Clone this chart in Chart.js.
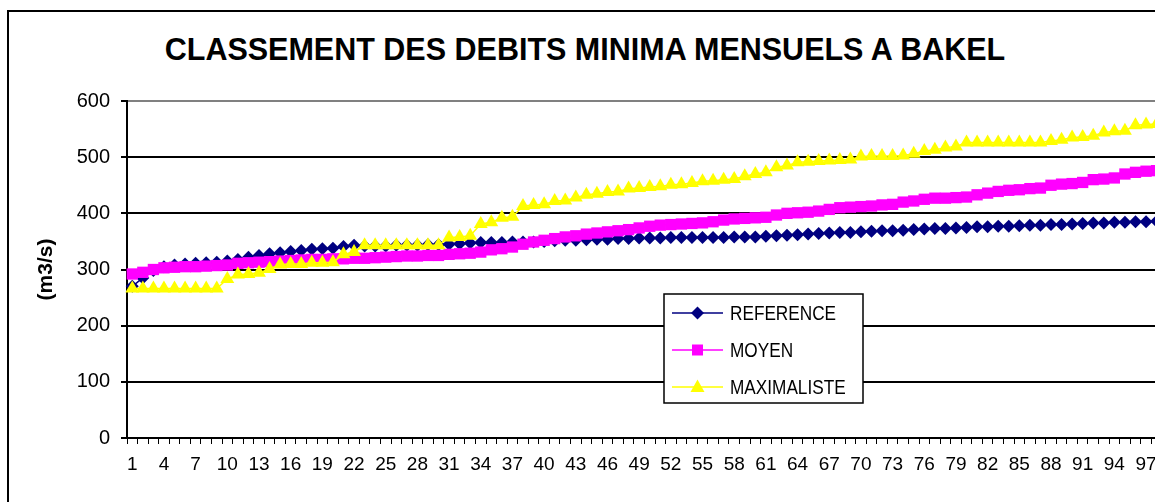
<!DOCTYPE html>
<html>
<head>
<meta charset="utf-8">
<script src="https://cdn.jsdelivr.net/npm/chart.js@4/dist/chart.umd.min.js"></script>
<style>
	html, body { margin: 0; padding: 0; background: #fff; overflow: hidden; }
	#frame { position: absolute; left: 7px; top: 10px; width: 1300px; height: 600px; border: 2px solid #000; }
	#titre { position: absolute; left: -9px; top: 22px; width: 1170px; text-align: center;
		font: bold 30.5px "Liberation Sans", Arial, sans-serif; line-height: 30px; color: #000; white-space: nowrap; }
	#MyChart { position: absolute; left: 0; top: 0; }
</style>
</head>
<body>
<div id="frame">
	<div id="titre">CLASSEMENT DES DEBITS MINIMA MENSUELS A BAKEL</div>
	<canvas id="MyChart" width="1200" height="490"></canvas>
</div>
<script>
// rang 1..100
var rangs = Array.from({ length: 100 }, function(_, i) { return String(i + 1); });

var reference = [270, 285, 298, 305, 308, 310, 311, 312, 313, 315,
	318, 322, 325, 328, 330, 332, 334, 336, 337, 338,
	341, 343, 342, 342, 342, 343, 343, 343, 344, 344,
	345, 346, 347, 348, 348, 348, 349, 349, 349, 350,
	351, 352, 352, 353, 354, 354, 355, 355, 356, 356,
	356, 357, 357, 357, 357, 357, 357, 358, 358, 358,
	359, 360, 361, 362, 363, 364, 365, 366, 366, 367,
	368, 369, 369, 370, 371, 372, 373, 373, 374, 375,
	376, 376, 377, 377, 378, 379, 379, 380, 380, 381,
	382, 383, 383, 384, 384, 385, 385, 386, 387, 388];

var moyen = [292, 295, 300, 303, 304, 305, 305, 306, 307, 308,
	311, 312, 313, 314, 315, 316, 317, 318, 318, 319,
	319, 320, 320, 321, 322, 323, 324, 324, 325, 325,
	327, 328, 329, 331, 335, 337, 340, 345, 349, 352,
	355, 358, 360, 363, 365, 367, 369, 371, 374, 377,
	379, 380, 381, 382, 383, 385, 388, 390, 391, 392,
	393, 397, 400, 401, 402, 404, 407, 410, 411, 412,
	413, 415, 416, 420, 422, 425, 427, 427, 428, 429,
	433, 436, 439, 441, 442, 444, 445, 450, 452, 453,
	455, 460, 461, 463, 470, 473, 475, 476, 478, 480];

var maximaliste = [266, 266, 266, 266, 266, 266, 266, 266, 266, 283,
	291, 292, 294, 301, 309, 310, 310, 312, 312, 313,
	327, 331, 343, 343, 343, 343, 343, 343, 343, 343,
	357, 358, 360, 381, 384, 392, 394, 413, 415, 416,
	422, 423, 428, 433, 435, 438, 439, 444, 445, 447,
	448, 451, 452, 454, 457, 458, 460, 461, 466, 470,
	473, 482, 485, 491, 492, 493, 494, 495, 496, 501,
	502, 502, 502, 503, 506, 511, 513, 517, 519, 526,
	526, 526, 526, 526, 526, 526, 526, 529, 531, 535,
	536, 538, 544, 546, 547, 557, 558, 559, 560, 561];

var yTicks = [0, 100, 200, 300, 400, 500, 600];

var police = '"Liberation Sans", Arial, sans-serif';

function marqueur(ctx, style, x, y, couleur) {
	ctx.fillStyle = couleur;
	ctx.beginPath();
	if (style == 'diamond') {
		ctx.moveTo(x, y - 6.5); ctx.lineTo(x + 6.5, y); ctx.lineTo(x, y + 6.5); ctx.lineTo(x - 6.5, y);
	} else if (style == 'square') {
		ctx.rect(x - 5.5, y - 5.5, 11, 11);
	} else {
		ctx.moveTo(x, y - 7.5); ctx.lineTo(x + 7, y + 5); ctx.lineTo(x - 7, y + 5);
	}
	ctx.closePath();
	ctx.fill();
}

// legende encadree dans la zone du graphique
var legendeBoite = {
	id: 'legendeBoite',
	afterDraw: function(chart) {
		var ctx = chart.ctx;
		var bx = 655, by = 282, bw = 199, bh = 109;
		var items = [
			{ txt: 'REFERENCE', col: '#000080', st: 'diamond' },
			{ txt: 'MOYEN', col: '#FF00FF', st: 'square' },
			{ txt: 'MAXIMALISTE', col: '#FFFF00', st: 'triangle' }
		];
		ctx.save();
		ctx.fillStyle = '#fff';
		ctx.fillRect(bx, by, bw, bh);
		ctx.strokeStyle = '#000';
		ctx.lineWidth = 1.5;
		ctx.strokeRect(bx, by, bw, bh);
		ctx.font = '20px ' + police;
		ctx.textBaseline = 'middle';
		for (var i = 0; i < items.length; i++) {
			var cy = by + 19 + i * 37;
			ctx.strokeStyle = items[i].col;
			ctx.lineWidth = 1.5;
			ctx.beginPath();
			ctx.moveTo(bx + 8, cy);
			ctx.lineTo(bx + 59, cy);
			ctx.stroke();
			marqueur(ctx, items[i].st, bx + 33.5, cy, items[i].col);
			ctx.fillStyle = '#000';
			var w = ctx.measureText(items[i].txt).width * 0.86;
			ctx.fillText(items[i].txt, bx + 66, cy + 1, w);
		}
		ctx.restore();
	}
};

var ctx = document.getElementById('MyChart').getContext('2d');
var chart = new Chart(ctx, {
	type: 'line',
	data: {
		labels: rangs,
		datasets: [{
			label: 'REFERENCE',
			data: reference,
			borderColor: '#000080',
			backgroundColor: '#000080',
			borderWidth: 1.5,
			pointStyle: 'rectRot',
			pointRadius: 6.5,
			pointBorderWidth: 0,
			order: 3
		}, {
			label: 'MOYEN',
			data: moyen,
			borderColor: '#FF00FF',
			backgroundColor: '#FF00FF',
			borderWidth: 1.5,
			pointStyle: 'rect',
			pointRadius: 8,
			pointBorderWidth: 0,
			order: 2
		}, {
			label: 'MAXIMALISTE',
			data: maximaliste,
			borderColor: '#FFFF00',
			backgroundColor: '#FFFF00',
			borderWidth: 1.5,
			pointStyle: 'triangle',
			pointRadius: 8,
			pointBorderWidth: 0,
			order: 1
		}]
	},
	options: {
		responsive: false,
		animation: false,
		layout: { padding: { left: 0, top: 89, right: 26, bottom: 0 } },
		plugins: {
			legend: { display: false },
			tooltip: { enabled: false }
		},
		scales: {
			x: {
				offset: true,
				afterFit: function(s) { s.height = 64; },
				grid: { offset: true, drawOnChartArea: false, drawTicks: true, tickLength: 6, color: '#000', lineWidth: 1 },
				border: { color: '#000', width: 2 },
				ticks: {
					autoSkip: false, maxRotation: 0, minRotation: 0, padding: 9, color: '#000',
					font: { family: police, size: 19 },
					callback: function(v, i) { return i % 3 === 0 ? this.getLabelForValue(v) : ''; }
				}
			},
			y: {
				min: yTicks[0],
				max: yTicks[yTicks.length - 1],
				afterFit: function(s) { s.width = 118; },
				afterBuildTicks: function(s) { s.ticks = yTicks.map(function(v) { return { value: v }; }); },
				grid: {
					color: function(c) { return c.tick && c.tick.value === 600 ? '#808080' : '#000'; },
					tickColor: '#000', tickLength: 6, lineWidth: 2
				},
				border: { color: '#000', width: 2 },
				ticks: { padding: 11, color: '#000', font: { family: police, size: 20 } },
				title: {
					display: true, text: '(m3/s)', color: '#000',
					font: { family: police, size: 21, weight: 'bold' },
					padding: { top: 25, bottom: 0 }
				}
			}
		}
	},
	plugins: [legendeBoite]
});
</script>
</body>
</html>
